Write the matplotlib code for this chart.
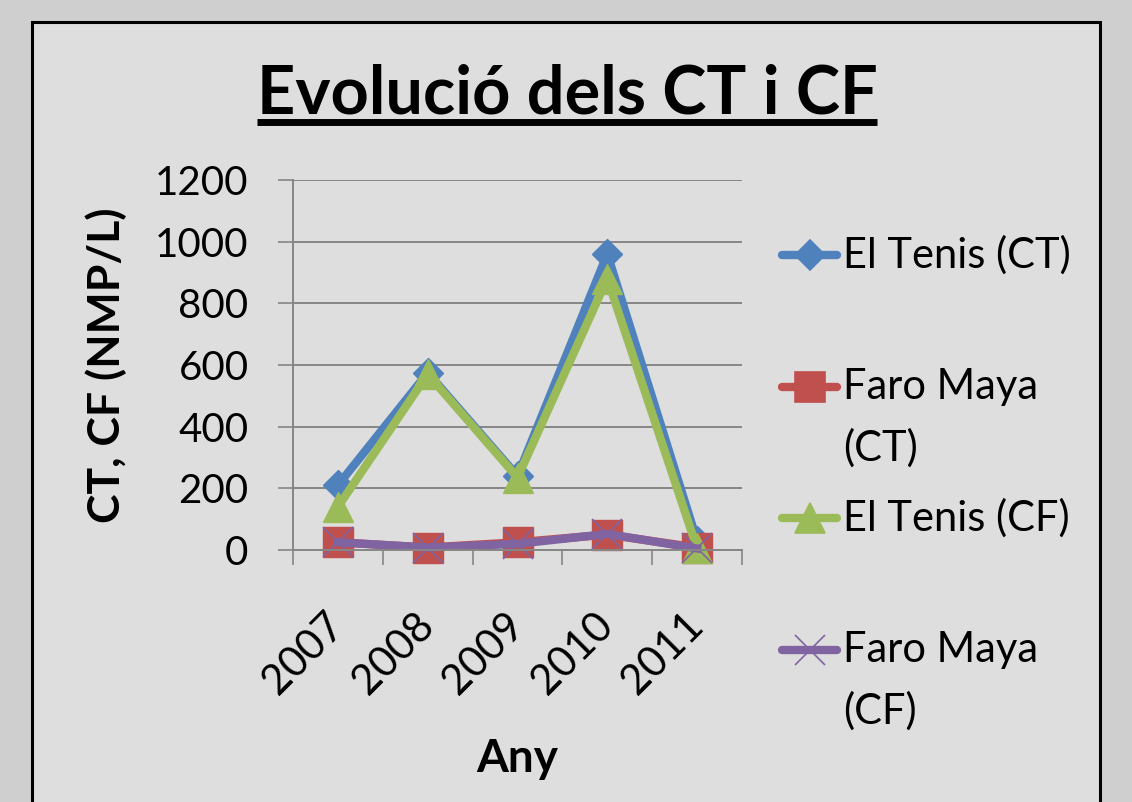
import matplotlib.pyplot as plt
from matplotlib.lines import Line2D
from matplotlib.patches import Rectangle

plt.rcParams['font.family'] = ['Lato', 'DejaVu Sans']

# data
years = ['2007', '2008', '2009', '2010', '2011']
tenis_ct = [210, 575, 240, 960, 30]
faro_ct = [25, 8, 25, 50, 8]
tenis_cf = [140, 570, 235, 880, 5]
faro_cf = [25, 8, 20, 52, 5]
y_ticks = [0, 200, 400, 600, 800, 1000, 1200]

series = [tenis_ct, faro_ct, tenis_cf, faro_cf]
names = ['El Tenis (CT)', 'Faro Maya\n(CT)', 'El Tenis (CF)', 'Faro Maya\n(CF)']
colors = ['#4F81BD', '#C0504D', '#9BBB59', '#8064A2']
markers = ['D', 's', '^', 'x']
msizes = [15, 21, 21, 21]

W, H = 1132, 802
fig = plt.figure(figsize=(W / 100, H / 100), dpi=100, facecolor='#cfcfcf')

# light panel with black frame
fig.patches.append(Rectangle((32 / W, -0.1), (1100 - 32) / W, 1.1 - 22 / H,
                             transform=fig.transFigure, facecolor='#dedede',
                             edgecolor='black', lw=2.2, zorder=-5))

ax = fig.add_axes([293 / W, 1 - 550 / H, 449 / W, 370 / H])
ax.set_facecolor('none')
x = range(len(years))
for vals, c, m, ms in zip(series, colors, markers, msizes):
    ax.plot(x, vals, color=c, lw=6, marker=m, markersize=ms,
            markerfacecolor=c, markeredgecolor=c,
            markeredgewidth=1.2 if m == 'x' else 1, solid_joinstyle='miter',
            clip_on=False)

ax.set_xlim(-0.5, len(years) - 0.5)
ax.set_ylim(0, 1200)
ax.set_yticks(y_ticks)
ax.set_xticks([i + 0.5 for i in range(-1, len(years))], minor=True)
ax.set_xticks(list(x))
ax.set_xticklabels(years, rotation=45, ha='right', va='center',
                   rotation_mode='anchor')
ax.tick_params(axis='x', which='major', length=0, pad=50, labelsize=30)
ax.tick_params(axis='x', which='minor', length=11, width=1.2, color='#868686')
ax.tick_params(axis='y', length=11, width=1.2, color='#868686', pad=21,
               labelsize=29)
ax.grid(axis='y', color='#868686', lw=1.4)
ax.set_axisbelow(True)
for s in ['top', 'right']:
    ax.spines[s].set_visible(False)
for s in ['left', 'bottom']:
    ax.spines[s].set_color('#868686')
    ax.spines[s].set_linewidth(1.4)

ax.set_ylabel('CT, CF (NMP/L)', fontsize=32, fontweight='bold')
ax.yaxis.set_label_coords((127 - 293) / 449, 0.5)
ax.set_xlabel('Any', fontsize=33, fontweight='bold')
ax.xaxis.set_label_coords(0.5, (550 - 738) / 370)

# title with underline
title = fig.text(567 / W, 1 - 113 / H, 'Evolució dels CT i CF', ha='center',
                 va='baseline', fontsize=48, fontweight='bold')
fig.canvas.draw()
bb = title.get_window_extent()
fig.add_artist(Line2D([bb.x0 / W, bb.x1 / W], [1 - 122 / H, 1 - 122 / H],
                      transform=fig.transFigure, color='black', lw=5,
                      solid_capstyle='butt'))

# legend drawn by hand (first line of each label next to its key)
rows = [255, 387, 518, 650]
for name, c, m, ms, yr in zip(names, colors, markers, msizes, rows):
    yf = 1 - yr / H
    fig.add_artist(Line2D([782 / W, 837 / W], [yf, yf], transform=fig.transFigure,
                          color=c, lw=6, solid_capstyle='round'))
    fig.add_artist(Line2D([810 / W], [yf], transform=fig.transFigure, color=c,
                          marker=m, markersize=ms, markerfacecolor=c,
                          markeredgecolor=c, markeredgewidth=1.2))
    for k, line in enumerate(name.split('\n')):
        fig.text(843 / W, 1 - (yr + 61 * k) / H, line, ha='left', va='center',
                 fontsize=30)

fig.savefig('out.png', dpi=100, facecolor=fig.get_facecolor())
